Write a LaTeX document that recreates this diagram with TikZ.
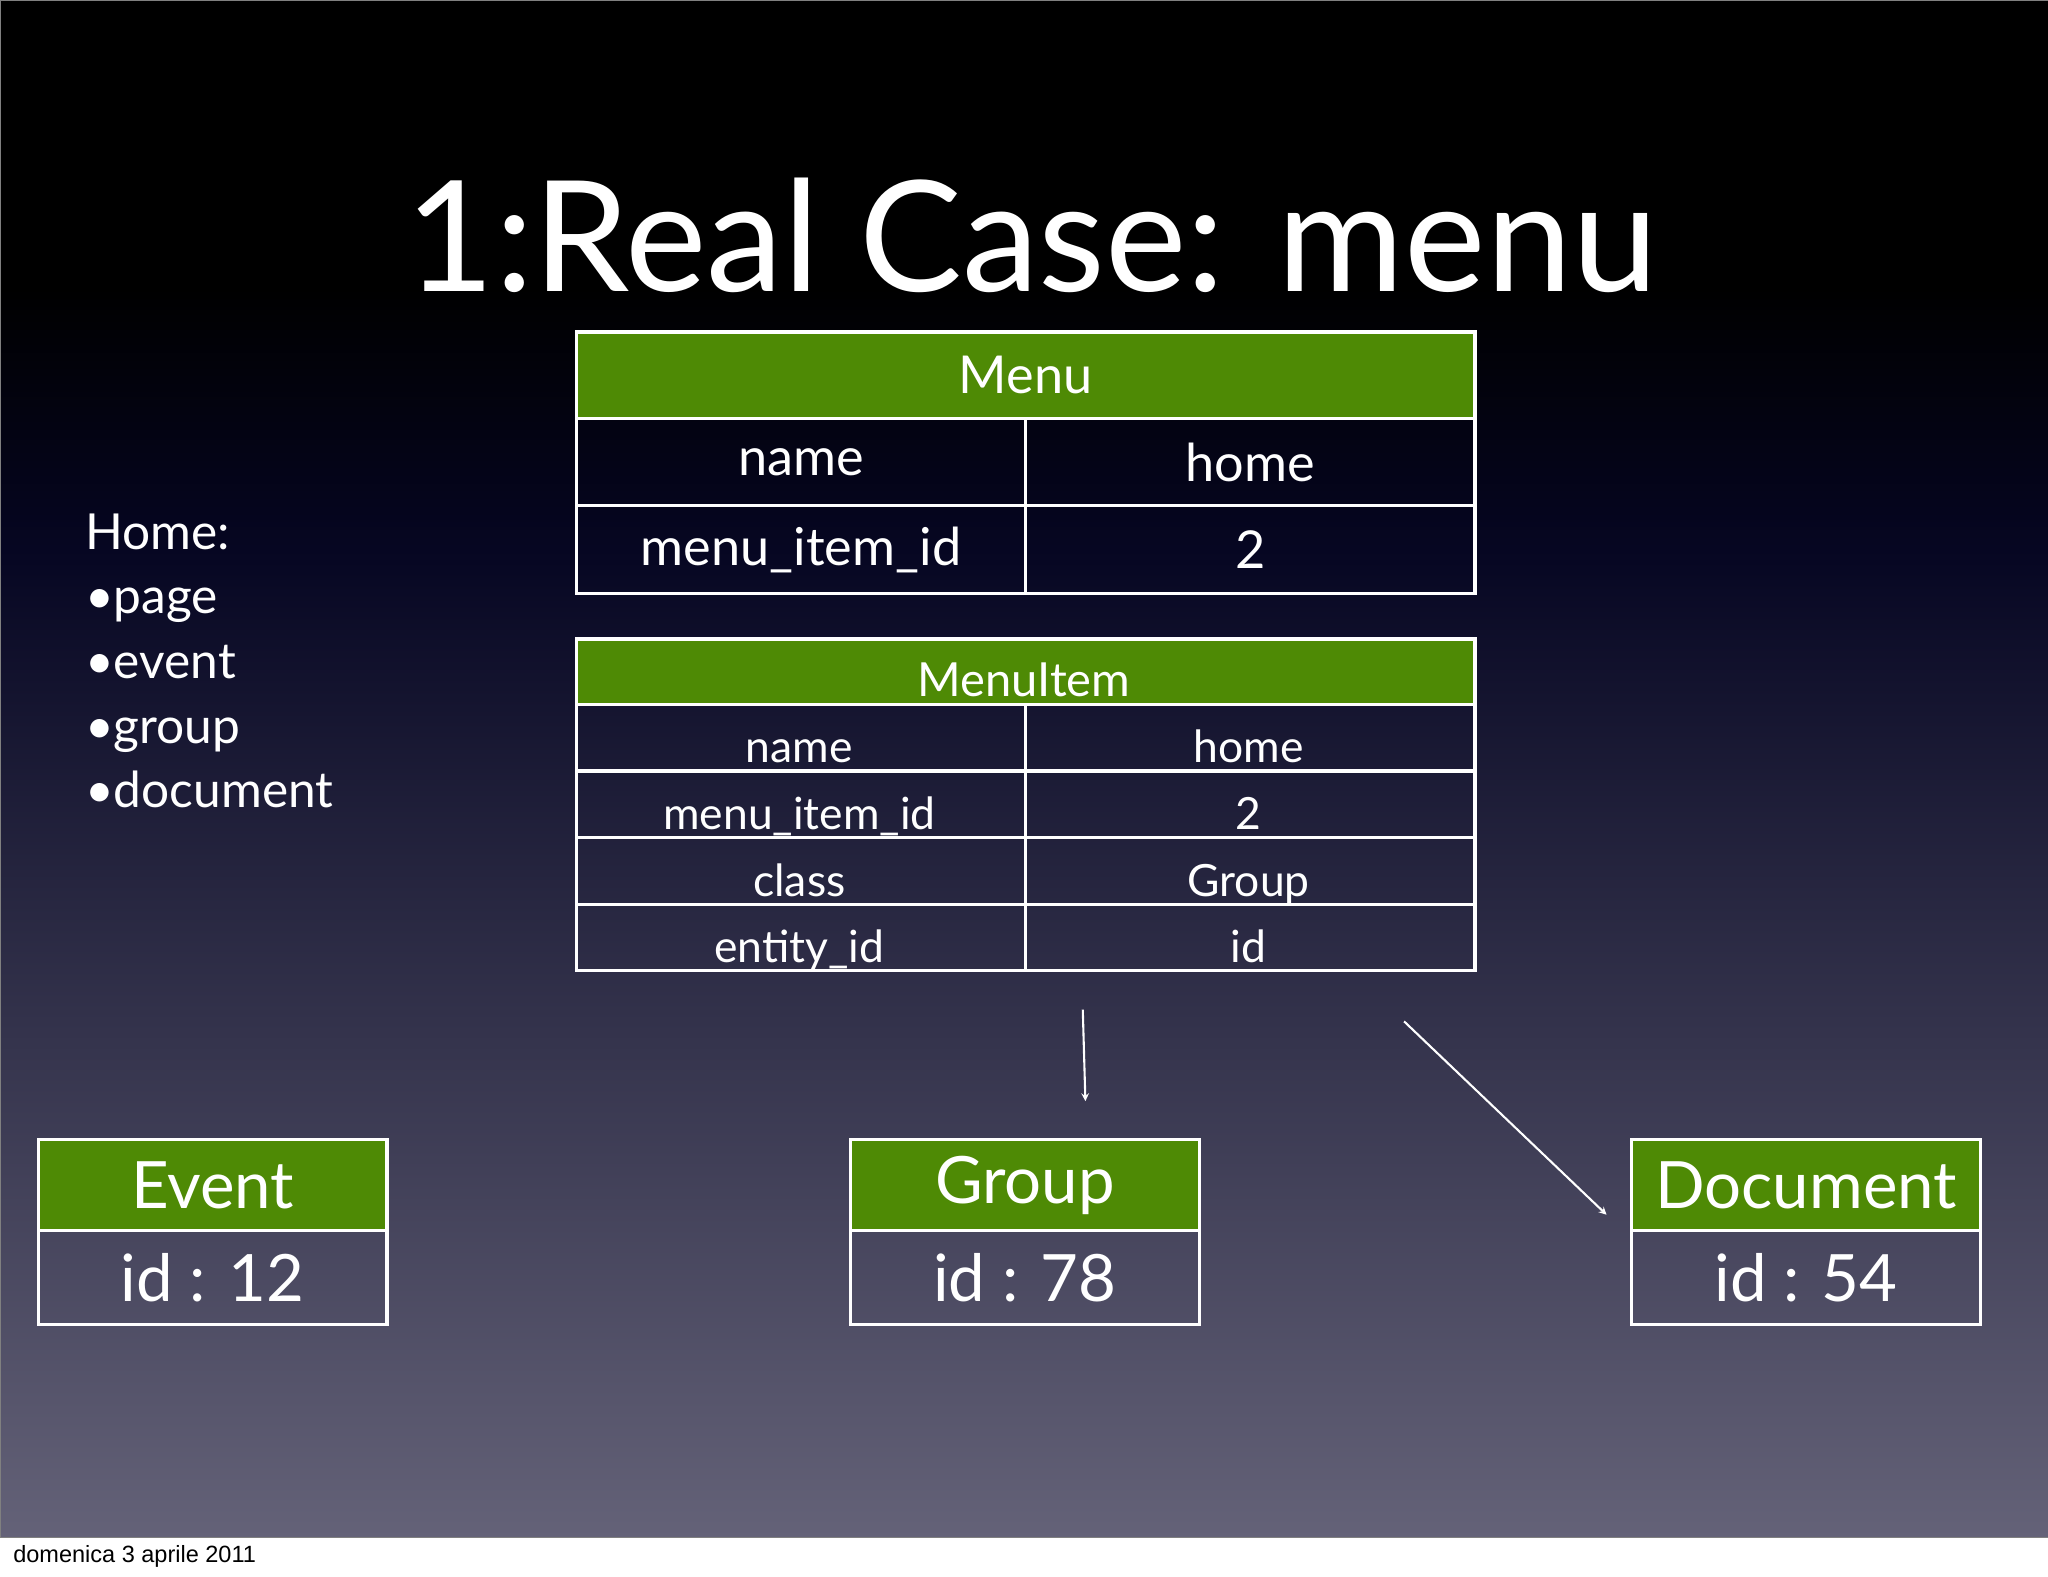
\documentclass[tikz,border=0pt]{standalone}
\usepackage{fontspec}
\setmainfont{Lato}
\newfontfamily\footfont{Liberation Sans}
\definecolor{hdr}{RGB}{78,138,5}
\definecolor{mid}{RGB}{6,6,34}
\definecolor{bot}{RGB}{100,98,120}
\begin{document}
\begin{tikzpicture}[x=1pt,y=-1pt,
  cell/.style={draw=white,line width=2.5pt,text=white,inner sep=0pt},
  hcell/.style={cell,fill=hdr},
  arr/.style={draw=white,line width=1.6pt,-stealth}]
\useasboundingbox (0,0) rectangle (1568,1207);
\fill[white] (0,0) rectangle (1568,1207);
\shade[top color=black,bottom color=black] (0,0) rectangle (1568,220);
\shade[top color=black,bottom color=mid] (0,220) rectangle (1568,420);
\shade[top color=mid,bottom color=bot] (0,420) rectangle (1568,1177);
\draw[gray,line width=0.8pt] (0,0) rectangle (1568,1177);
\node[text=white,font=\fontsize{118}{120}\selectfont] (title) at (790,180) {1:Real Case: menu};
% Menu table
\node[hcell,minimum width=688,minimum height=66,anchor=north west,font=\fontsize{40}{40}\selectfont] (mh) at (440,253) {Menu};
\foreach \i/\a/\b in {0/name/home,1/menu\_item\_id/2}{
  \node[cell,minimum width=344,minimum height=67,anchor=north west,font=\fontsize{40}{40}\selectfont] (ma\i) at (440,319+67*\i) {\a};
  \node[cell,minimum width=344,minimum height=67,anchor=north west,font=\fontsize{40}{40}\selectfont] (mb\i) at (784,319+67*\i) {\b};
}
% MenuItem table
\node[hcell,minimum width=688,minimum height=50,anchor=north west] (ih) at (440,488) {};
\node[text=white,font=\fontsize{36}{36}\selectfont,anchor=base] (iht) at (784,533) {MenuItem};
\foreach \i/\a/\b in {0/name/home,1/menu\_item\_id/2,2/class/Group,3/entity\_id/id}{
  \node[cell,minimum width=344,minimum height=51,anchor=north west] (ia\i) at (440,538+51*\i) {};
  \node[cell,minimum width=344,minimum height=51,anchor=north west] (ib\i) at (784,538+51*\i) {};
  \node[text=white,anchor=base,font=\fontsize{34}{34}\selectfont] (iat\i) at (612,584+51*\i) {\a};
  \node[text=white,anchor=base,font=\fontsize{34}{34}\selectfont] (ibt\i) at (956,584+51*\i) {\b};
}
% Home list
\node[text=white,anchor=north west,align=left,font=\fontsize{38}{49.5}\selectfont,inner sep=0pt] (home) at (65,393) {Home:\\•page\\•event\\•group\\•document};
% Entity boxes
\foreach \n/\x/\t/\v in {ev/28/Event/id : 12,gr/650/Group/id : 78,doc/1248/Document/id : 54}{
  \node[hcell,minimum width=267,minimum height=70,anchor=north west,font=\fontsize{50}{50}\selectfont] (\n h) at (\x,871) {\t};
  \node[cell,minimum width=267,minimum height=72,anchor=north west,font=\fontsize{50}{50}\selectfont] (\n v) at (\x,941) {\v};
}
\coordinate (a1s) at (829,773);
\coordinate (a1e) at (831,843);
\coordinate (a2s) at (1075,782);
\coordinate (a2e) at (1230,930);
\draw[arr] (a1s) -- (a1e);
\draw[arr] (a2s) -- (a2e);
\node[anchor=base west,font=\footfont\fontsize{18}{18}\selectfont,inner sep=0pt] (foot) at (10,1196) {domenica 3 aprile 2011};
\end{tikzpicture}
\end{document}
